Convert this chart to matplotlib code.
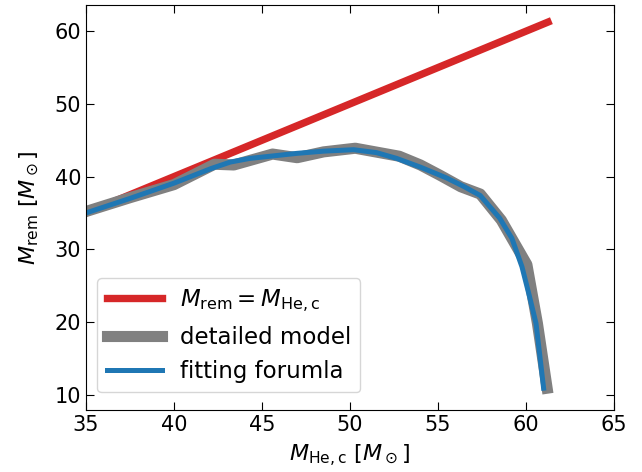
import matplotlib
matplotlib.use("Agg")
import matplotlib.pyplot as plt

# detailed model (grey)
model_x = [33.0, 35.0, 37.5, 40.0, 42.3, 43.4, 45.6, 47.0, 48.5, 50.3, 52.8, 54.0, 55.1, 56.3, 57.4, 58.6, 60.05, 60.65, 61.2]
model_y = [33.6, 35.2, 37.1, 38.9, 41.7, 41.6, 43.1, 42.6, 43.4, 43.9, 42.8, 41.6, 40.2, 38.6, 37.6, 34.0, 27.9, 19.8, 10.9]

# fitting formula (blue)
fit_x = [33.0, 35.0, 37.5, 40.0, 42.1, 43.2, 44.3, 47.0, 48.5, 50.2, 51.5, 52.65, 54.0, 55.5, 56.5, 57.4, 58.5, 59.2, 59.77, 60.2, 60.57, 61.0]
fit_y = [33.5, 35.0, 37.0, 39.1, 41.1, 42.0, 42.5, 43.2, 43.5, 43.7, 43.3, 42.5, 41.3, 39.8, 38.6, 37.4, 34.3, 31.5, 27.6, 23.5, 19.8, 10.9]

# identity line
ident_x = [33.0, 61.25]
ident_y = [33.0, 61.25]

x_ticks = [35, 40, 45, 50, 55, 60, 65]
y_ticks = [10, 20, 30, 40, 50, 60]

fig = plt.figure(figsize=(6.42, 4.72), dpi=100)
ax = fig.add_axes([86/642, 1-410/472, (614-86)/642, (410-5)/472])

ax.plot(ident_x, ident_y, color='#d62728', lw=5.3, label=r'$M_{\rm rem} = M_{\rm He,c}$')
ax.plot(model_x, model_y, color='gray', lw=8, label='detailed model')
ax.plot(fit_x, fit_y, color='#1f77b4', lw=3.6, label='fitting forumla')

ax.set_xlim(35, 65)
ax.set_ylim(7.9, 63.6)
ax.set_xticks(x_ticks)
ax.set_yticks(y_ticks)
ax.tick_params(direction='in', top=True, right=True, length=6, labelsize=15)
ax.set_xlabel(r'$M_{\rm He,c}\ [M_\odot]$', fontsize=16, labelpad=6)
ax.set_ylabel(r'$M_{\rm rem}\ [M_\odot]$', fontsize=16, labelpad=10)
ax.legend(loc='lower left', fontsize=16.5, handlelength=2.4,
          bbox_to_anchor=(0.0, 0.015))

fig.savefig('out.png', dpi=100)
